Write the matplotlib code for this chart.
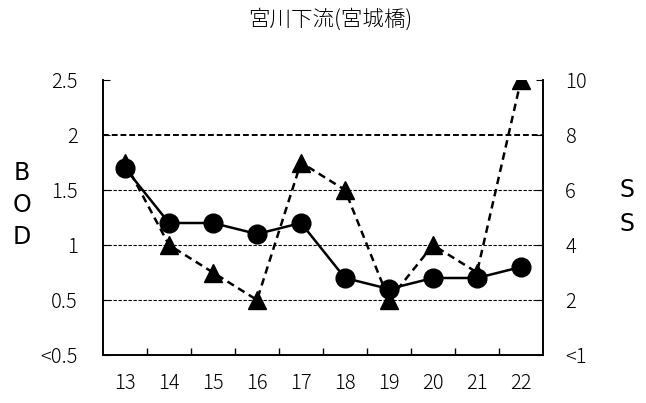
import matplotlib
matplotlib.use("Agg")
import matplotlib.pyplot as plt
import numpy as np

plt.rcParams['font.family'] = ['Noto Sans CJK JP', 'DejaVu Sans']

years = ["13", "14", "15", "16", "17", "18", "19", "20", "21", "22"]
bod = [1.7, 1.2, 1.2, 1.1, 1.2, 0.7, 0.6, 0.7, 0.7, 0.8]
ss = [7, 4, 3, 2, 7, 6, 2, 4, 3, 10]
bod_ticks = [0, 0.5, 1, 1.5, 2, 2.5]
bod_labels = ["<0.5", "0.5", "1", "1.5", "2", "2.5"]
ss_ticks = [0, 2, 4, 6, 8, 10]
ss_labels = ["<1", "2", "4", "6", "8", "10"]
title = "宮川下流(宮城橋)"

fig = plt.figure(figsize=(6.46, 4.03), dpi=100)
ax = fig.add_axes([103/646, 1-355/403, 440/646, 275/403])
ax2 = ax.twinx()
ax.set_zorder(ax2.get_zorder() + 1)
ax.patch.set_visible(False)

x = np.arange(len(years))
ax.set_xlim(-0.5, len(years) - 0.5)
ax.set_ylim(0, 2.5)
ax2.set_ylim(0, 10)

for v in bod_ticks[1:-1]:
    ax.axhline(v, color='black', linestyle=(0, (3, 1.5)),
               linewidth=1.4 if v == 2 else 0.8, zorder=1)

ax2.plot(x, ss, color='black', linestyle=(0, (3, 2)), linewidth=1.8,
         marker='^', markersize=12.5, markerfacecolor='black', markeredgecolor='black')
ax.plot(x, bod, color='black', linestyle='-', linewidth=1.8,
        marker='o', markersize=13.5, markerfacecolor='black', markeredgecolor='black', zorder=3)

tick_font = dict(fontsize=14.5, fontweight='light')
ax.set_xticks(x)
ax.set_xticklabels(years, **tick_font)
ax.set_xticks(np.arange(len(years) - 1) + 0.5, minor=True)
ax.tick_params(axis='x', which='major', length=0, pad=13)
ax.tick_params(axis='x', which='minor', direction='in', length=5, width=1)

ax.set_yticks(bod_ticks)
ax.set_yticklabels(bod_labels, **tick_font)
ax.tick_params(axis='y', direction='in', length=5, pad=18)
ax2.set_yticks(ss_ticks)
ax2.set_yticklabels(ss_labels, **tick_font)
ax2.tick_params(axis='y', direction='in', length=5, pad=16)
for lab in ax2.get_yticklabels():
    lab.set_horizontalalignment('left')

for a in (ax, ax2):
    a.spines['top'].set_visible(False)
    for s in ('left', 'right', 'bottom'):
        a.spines[s].set_linewidth(1.2)

fig.text(330/646, 1-20/403, title, ha='center', va='center', fontsize=15.5, fontweight='light')

for i, ch in enumerate("BOD"):
    fig.text(22/646, 1-(173 + 32*i)/403, ch, ha='center', va='center',
             fontsize=17, family='DejaVu Sans')
for i, ch in enumerate("SS"):
    fig.text(627/646, 1-(190 + 34*i)/403, ch, ha='center', va='center',
             fontsize=17, family='DejaVu Sans')

fig.savefig("out.png", dpi=100)
